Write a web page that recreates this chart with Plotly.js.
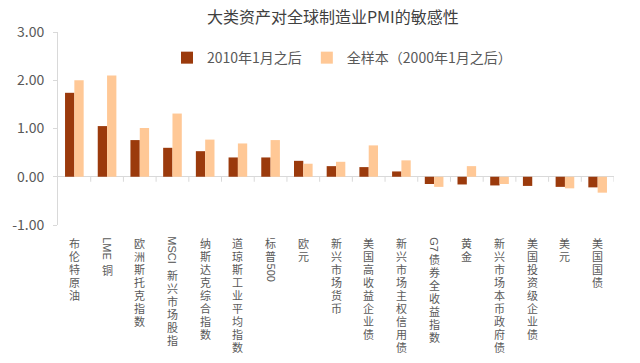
<!DOCTYPE html>
<html>
<head>
<meta charset="utf-8">
<script src="https://cdn.plot.ly/plotly-3.0.1.min.js"></script>
<style>html,body{margin:0;padding:0;background:#fff;}#chart{width:640px;height:363px;}</style>
</head>
<body>
<div id="chart"></div>
<script>
// ---- data ----
const categories = ['布伦特原油','LME 铜','欧洲斯托克指数','MSCI 新兴市场股指','纳斯达克综合指数','道琼斯工业平均指数','标普500','欧元','新兴市场货币','美国高收益企业债','新兴市场主权信用债','G7债券全收益指数','黄金','新兴市场本币政府债','美国投资级企业债','美元','美国国债'];
const since2010 = [1.74, 1.05, 0.76, 0.60, 0.53, 0.40, 0.40, 0.33, 0.22, 0.20, 0.11, -0.15, -0.16, -0.18, -0.19, -0.21, -0.22];
const fullSample = [2.00, 2.10, 1.01, 1.31, 0.77, 0.69, 0.76, 0.27, 0.31, 0.65, 0.34, -0.21, 0.22, -0.15, 0.00, -0.24, -0.33];
const seriesNames = ['2010年1月之后', '全样本（2000年1月之后）'];
const yTicks = [-1, 0, 1, 2, 3];
const titleText = '大类资产对全球制造业PMI的敏感性';

// ---- style ----
const FONT = '"Noto Sans CJK SC", "Noto Sans", sans-serif';
const LABEL_FONT = '"Liberation Sans", "Noto Sans CJK SC", sans-serif';
const TXT = '#595959';
const AXIS = '#d9d9d9';
const colors = ['#9B3A0C', '#FFC896'];

const traces = [since2010, fullSample].map((vals, k) => ({
  type: 'bar', x: categories, y: vals, name: seriesNames[k],
  marker: {color: colors[k], line: {width: 0}}, hoverinfo: 'skip'
}));

// vertical category labels: one annotation per CJK character, rotated Latin runs
const fs = 11, pitch = 13, glyphTop = 12;
const cv = document.createElement('canvas').getContext('2d');
cv.font = fs + 'px ' + LABEL_FONT;
function measure(t){ const w = cv.measureText(t).width; return w > 0 ? w : t.length * fs * 0.6; }
const annotations = [];
function ann(i, text, center, angle){
  annotations.push({x: i, y: 0, xref: 'x', yref: 'paper', text: text, textangle: angle,
    showarrow: false, xanchor: 'center', yanchor: 'middle', borderpad: 0,
    yshift: -(glyphTop + center), font: {family: LABEL_FONT, size: fs, color: TXT}});
}
categories.forEach((lab, i) => {
  let off = 0, latin = '';
  const flush = () => { if (!latin) return; const len = measure(latin);
    ann(i, latin, off + len / 2, 90); off += len + 1.5; latin = ''; };
  for (const ch of lab) {
    if (/[A-Za-z0-9]/.test(ch)) { latin += ch; continue; }
    flush();
    if (ch === ' ') { off += 3; continue; }
    ann(i, ch, off + pitch / 2, 0); off += pitch;
  }
  flush();
});

// category boundary tick marks hanging from the zero line
const shapes = [];
for (let i = 1; i <= categories.length; i++) {
  shapes.push({type: 'line', xref: 'x', yref: 'y', ysizemode: 'pixel', yanchor: 0,
    x0: i - 0.5, x1: i - 0.5, y0: 0, y1: -5, line: {color: AXIS, width: 1}});
}

const layout = {
  width: 640, height: 363,
  margin: {l: 58, r: 26, t: 32, b: 138, pad: 0},
  paper_bgcolor: '#fff', plot_bgcolor: '#fff',
  font: {family: FONT, color: TXT},
  title: {text: titleText, font: {family: FONT, size: 16, color: '#404040'},
    x: 0.52, xref: 'container', xanchor: 'center', y: 1 - 17 / 363, yref: 'container', yanchor: 'middle'},
  barmode: 'group', bargap: 0.43, bargroupgap: 0,
  showlegend: true,
  legend: {orientation: 'h', x: 0.196, y: 0.865, xanchor: 'left', yanchor: 'middle',
    font: {family: FONT, size: 14, color: TXT}, bgcolor: 'rgba(0,0,0,0)', traceorder: 'normal'},
  xaxis: {type: 'category', range: [-0.5, categories.length - 0.5], showticklabels: false,
    showline: false, ticks: '', showgrid: false, zeroline: false, fixedrange: true},
  yaxis: {range: [yTicks[0], yTicks[yTicks.length - 1]], tickmode: 'array', tickvals: yTicks,
    ticktext: yTicks.map(v => v.toFixed(2)), showline: true, linecolor: AXIS, linewidth: 1,
    ticks: 'outside', ticklen: 4, tickcolor: AXIS, tickwidth: 1, showgrid: false,
    zeroline: true, zerolinecolor: AXIS, zerolinewidth: 1, ticklabelstandoff: 6,
    tickfont: {family: FONT, size: 14, color: TXT}, fixedrange: true},
  annotations: annotations,
  shapes: shapes
};

Plotly.newPlot('chart', traces, layout, {displayModeBar: false, staticPlot: true});
</script>
</body>
</html>
